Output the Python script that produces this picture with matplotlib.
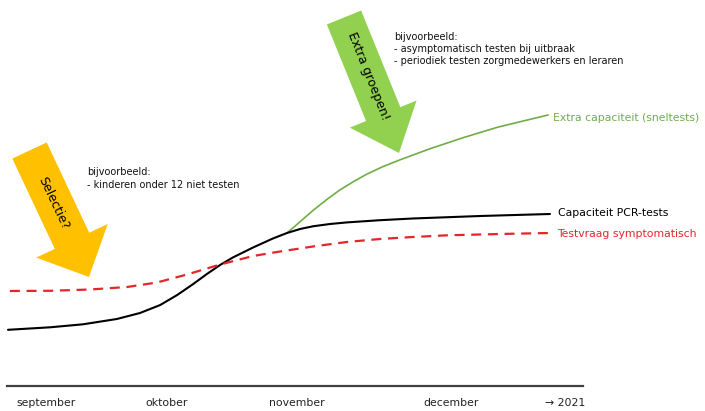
import matplotlib
matplotlib.use("Agg")
import matplotlib.pyplot as plt
from matplotlib.transforms import Affine2D
from matplotlib.patches import FancyArrow

# ---------------- data (x = days since 1 September, y = capacity index) -------------
days_pcr = [0, 8.9, 15.9, 23.1, 28.0, 32.3, 35.9, 39.3, 42.2, 45.0, 47.7, 52.0, 56.2,
            59.2, 62.0, 64.7, 68.3, 71.9, 78.9, 85.9, 100.2, 115.0]
capacity_pcr = [19.65, 20.52, 21.57, 23.43, 25.52, 28.32, 31.82, 35.66, 39.16, 42.31,
                44.93, 48.43, 51.57, 53.50, 54.90, 55.84, 56.64, 57.20, 57.97, 58.57,
                59.44, 60.14]

days_demand = [0.4, 8.9, 17.4, 25.3, 31.6, 38.0, 45.0, 52.0, 57.7, 62.0, 64.7, 71.9,
               78.9, 85.9, 93.2, 104.4, 115.0]
demand_symptomatic = [33.22, 33.29, 33.74, 34.62, 36.19, 38.99, 42.48, 45.45, 47.03,
                      48.08, 48.78, 50.35, 51.40, 52.10, 52.69, 53.15, 53.50]

days_extra = [59.2, 62.0, 64.7, 67.7, 70.4, 73.2, 76.2, 79.6, 83.2, 89.5, 96.5, 103.8, 114.6]
capacity_extra = [53.50, 57.48, 61.36, 65.28, 68.53, 71.36, 74.13, 76.75, 79.09, 82.94,
                  86.78, 90.45, 94.76]

month_pos = [1.7, 29.1, 55.4, 88.1, 113.9]
month_labels = ["september", "oktober", "november", "december", "\u2192 2021"]

label_extra = "Extra capaciteit (sneltests)"
label_pcr = "Capaciteit PCR-tests"
label_demand = "Testvraag symptomatisch"

# ---------------- figure ----------------
W, H = 705, 411
fig = plt.figure(figsize=(W / 100, H / 100), dpi=100)
ax = fig.add_axes([0, 0, 1, 1])
ax.set_xlim(-8 / 4.713, (W - 8) / 4.713)
ax.set_ylim((386 - H) / 2.86, 386 / 2.86)

# pixel transform (origin top-left) for annotations
pix = Affine2D().scale(1 / W, -1 / H).translate(0, 1) + fig.transFigure

GREEN_LINE = "#70AD47"
RED = "#E3262A"

ax.plot(days_extra, capacity_extra, color=GREEN_LINE, lw=1.2, solid_capstyle="round",
        solid_joinstyle="round", zorder=3)
ax.plot(days_pcr, capacity_pcr, color="black", lw=1.5, solid_capstyle="round",
        solid_joinstyle="round", zorder=4)
ax.plot(days_demand, demand_symptomatic, color=RED, lw=1.6, dashes=(4.5, 3), zorder=4)

ax.annotate(label_extra, (days_extra[-1], capacity_extra[-1]), xytext=(5, -3),
            textcoords="offset pixels", ha="left", va="center", fontsize=7.8,
            color=GREEN_LINE)
ax.annotate(label_pcr, (days_pcr[-1], capacity_pcr[-1]), xytext=(8, 1),
            textcoords="offset pixels", ha="left", va="center", fontsize=7.8,
            color="black")
ax.annotate(label_demand, (days_demand[-1], demand_symptomatic[-1]), xytext=(7, -1),
            textcoords="offset pixels", ha="left", va="center", fontsize=7.8,
            color=RED)

# arrows
ya = FancyArrow(29.5, 150.5, 59.5, 126.5, width=38, head_width=79, head_length=40,
                length_includes_head=True, transform=pix, color="#FFC000", lw=0, zorder=2)
ga = FancyArrow(344, 17.5, 55, 135.5, width=37, head_width=72, head_length=42,
                length_includes_head=True, transform=pix, color="#92D050", lw=0, zorder=2)
fig.add_artist(ya)
fig.add_artist(ga)
fig.text(53, 203, "Selectie?", transform=pix, rotation=-64.8, rotation_mode="anchor",
         ha="center", va="center", fontsize=9, color="black")
fig.text(368, 76, "Extra groepen!", transform=pix, rotation=-68.3, rotation_mode="anchor",
         ha="center", va="center", fontsize=9, color="black")

fig.text(87, 172, "bijvoorbeeld:", transform=pix, ha="left", va="center", fontsize=7, color="#111111")
fig.text(87, 185, "- kinderen onder 12 niet testen", transform=pix, ha="left", va="center",
         fontsize=7, color="#111111")
fig.text(394, 37, "bijvoorbeeld:", transform=pix, ha="left", va="center", fontsize=7, color="#111111")
fig.text(394, 49, "- asymptomatisch testen bij uitbraak", transform=pix, ha="left",
         va="center", fontsize=7, color="#111111")
fig.text(394, 61, "- periodiek testen zorgmedewerkers en leraren", transform=pix, ha="left",
         va="center", fontsize=7, color="#111111")

# axis
for s in ["top", "right", "left"]:
    ax.spines[s].set_visible(False)
ax.spines["bottom"].set_position(("data", 0))
ax.spines["bottom"].set_bounds(-0.2, 122)
ax.spines["bottom"].set_color("#404040")
ax.spines["bottom"].set_linewidth(1.6)
ax.set_yticks([])
ax.set_xticks(month_pos, month_labels)
for t in ax.get_xticklabels():
    t.set_ha("left")
ax.tick_params(axis="x", length=0, pad=8.5, labelsize=7.8, labelcolor="#222222")

fig.savefig("out.png", dpi=100)
